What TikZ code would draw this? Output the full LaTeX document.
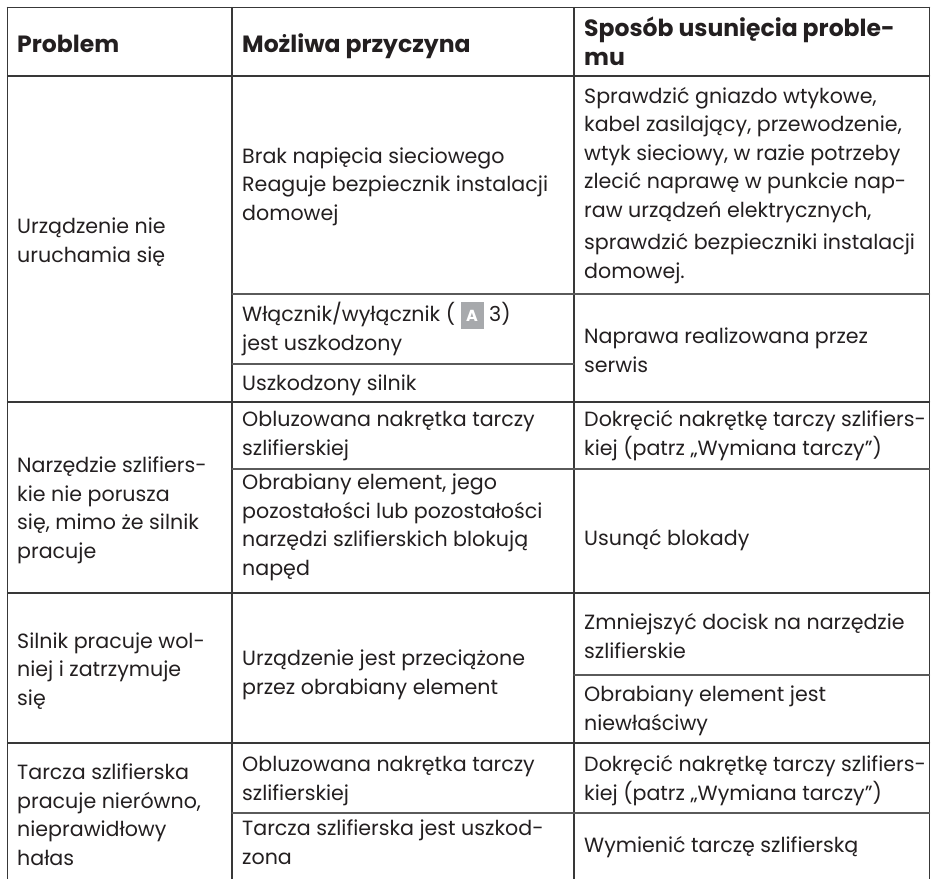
\documentclass[tikz,border=0pt]{standalone}
\usepackage{fontspec}
\setmainfont{Poppins}
\definecolor{rulegray}{HTML}{383838}
\definecolor{subgray}{HTML}{5A5A5A}
\definecolor{inkblack}{HTML}{231F20}
\definecolor{badgegray}{HTML}{A7A9AC}
% small grey picture reference used in the cause column
\newcommand{\partbadge}[1]{{\setlength{\fboxsep}{0pt}\colorbox{badgegray}{\makebox[23pt]{\rule[-7pt]{0pt}{27pt}\textcolor{white}{\bfseries\fontsize{16}{16}\selectfont #1}}}}}

\begin{document}
\begin{tikzpicture}[x=1pt, y=-1pt, line cap=round, line join=round,
  rule/.style={draw=rulegray, line width=1.3pt},
  subrule/.style={draw=subgray, line width=1.2pt},
  % anchor sits on the baseline of the last line of a cell
  cell/.style={anchor=base west, align=left, inner sep=0pt, text=inkblack,
    font=\fontsize{20.6}{28.5}\selectfont},
  head/.style={cell, font=\fontsize{23.5}{29}\selectfont\bfseries}]
  \useasboundingbox (0,0) rectangle (931,878);

  % grid of the table (it runs on past the lower edge)
  \foreach \x in {7.5,232,574,929.5}
    \draw[rule] (\x,7.5) -- (\x,890);
  \foreach \y in {7.5,76,402,593,743}
    \draw[rule] (7.5,\y) -- (929.5,\y);
  \foreach \y in {294,469,813}
    \draw[subrule] (232,\y) -- (929.5,\y);
  \draw[subrule] (232,364) -- (574,364);
  \draw[subrule] (574,675) -- (929.5,675);

  % header
  \node[head] (hProblem) at (17,52) {Problem};
  \node[head] (hCause) at (242,52) {Możliwa przyczyna};
  \node[head] (hFix) at (584,65) {Sposób usunięcia proble-\\mu};

  % row 1
  \node[cell] (p1) at (17,262) {Urządzenie nie\\uruchamia się};
  \node[cell] (c1a) at (242,220) {Brak napięcia sieciowego\\Reaguje bezpiecznik instalacji\\domowej};
  \node[cell] (c1b) at (242,350) {Włącznik/wyłącznik ( \partbadge{A} 3)\\jest uszkodzony};
  \node[cell] (c1c) at (242,390) {Uszkodzony silnik};
  \node[cell] (f1a) at (584,278) {Sprawdzić gniazdo wtykowe,\\kabel zasilający, przewodzenie,\\wtyk sieciowy, w razie potrzeby\\zlecić naprawę w punkcie nap-\\raw urządzeń elektrycznych,\\[4pt]sprawdzić bezpieczniki instalacji\\domowej.};
  \node[cell] (f1b) at (584,372) {Naprawa realizowana przez\\serwis};

  % row 2
  \node[cell] (p2) at (17,558) {Narzędzie szlifiers-\\kie nie porusza\\się, mimo że silnik\\pracuje};
  \node[cell] (c2a) at (242,455) {Obluzowana nakrętka tarczy\\szlifierskiej};
  \node[cell] (c2b) at (242,575) {Obrabiany element, jego\\pozostałości lub pozostałości\\narzędzi szlifierskich blokują\\napęd};
  \node[cell] (f2a) at (584,455) {Dokręcić nakrętkę tarczy szlifiers-\\kiej (patrz „Wymiana tarczy”)};
  \node[cell] (f2b) at (584,545) {Usunąć blokady};

  % row 3
  \node[cell] (p3) at (17,705) {Silnik pracuje wol-\\niej i zatrzymuje\\się};
  \node[cell] (c3) at (242,694) {Urządzenie jest przeciążone\\przez obrabiany element};
  \node[cell] (f3a) at (584,658) {Zmniejszyć docisk na narzędzie\\szlifierskie};
  \node[cell] (f3b) at (584,730) {Obrabiany element jest\\niewłaściwy};

  % row 4
  \node[cell] (p4) at (17,865) {Tarcza szlifierska\\pracuje nierówno,\\nieprawidłowy\\hałas};
  \node[cell] (c4a) at (242,800) {Obluzowana nakrętka tarczy\\szlifierskiej};
  \node[cell] (f4a) at (584,800) {Dokręcić nakrętkę tarczy szlifiers-\\kiej (patrz „Wymiana tarczy”)};
  \node[cell] (c4b) at (242,864) {Tarcza szlifierska jest uszkod-\\zona};
  \node[cell] (f4b) at (584,852) {Wymienić tarczę szlifierską};
\end{tikzpicture}
\end{document}
